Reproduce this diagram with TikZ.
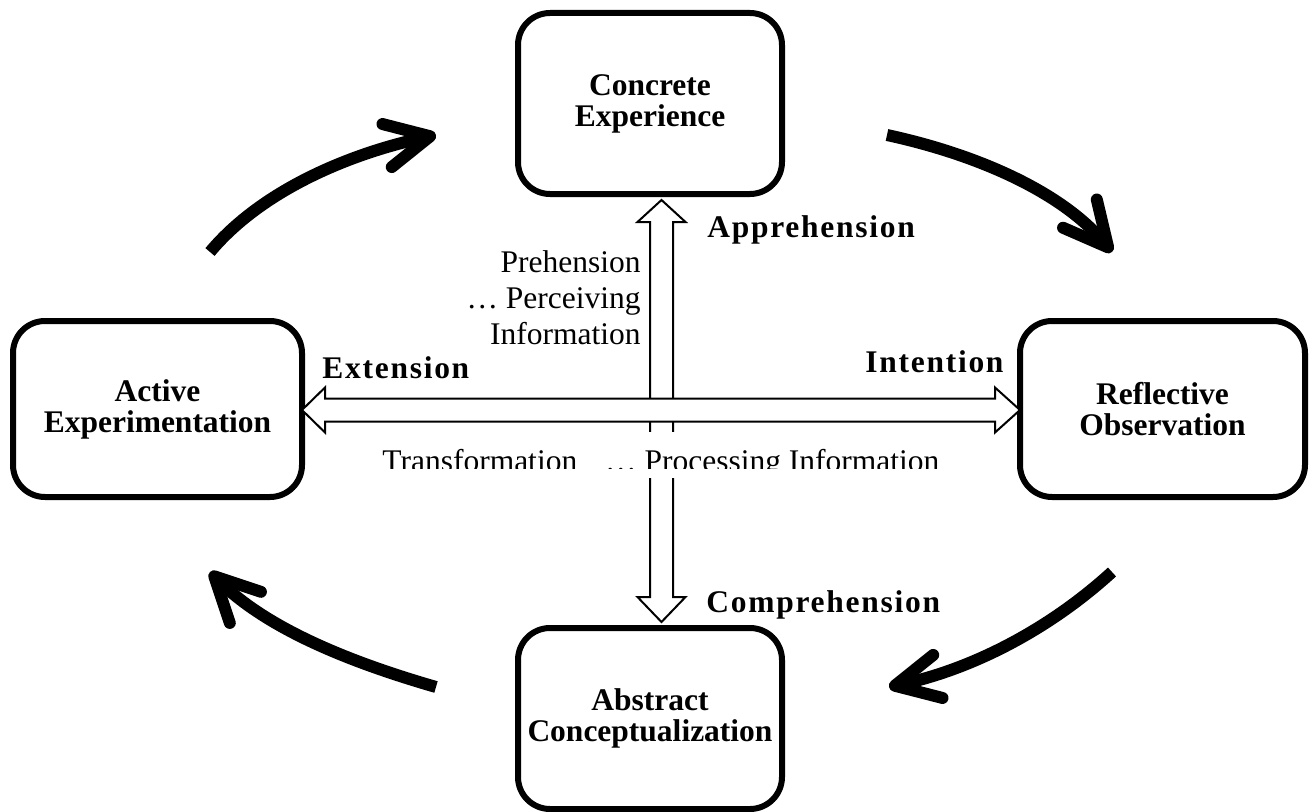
\documentclass[tikz,border=0pt]{standalone}
\usepackage{fontspec}
\setmainfont{Liberation Serif}
\newfontfamily\spacedfont[LetterSpace=5.5]{Liberation Serif}
\usetikzlibrary{arrows.meta,calc}

\begin{document}
\begin{tikzpicture}[x=0.5pt,y=0.5pt,
    stage/.style={draw, line width=3pt, rounded corners=16pt, align=center, inner sep=0pt,
        font=\bfseries\fontsize{15.75}{15.5}\selectfont},
    cyclearrow/.style={line width=6pt, -{Straight Barb[length=22pt,width=22pt,round]}},
    hollow/.style={draw, line width=1pt, fill=white},
    plain/.style={inner sep=0pt, font=\fontsize{15.75}{18}\selectfont},
    mode/.style={inner sep=0pt, anchor=base west, font=\spacedfont\bfseries\fontsize{15.75}{18}\selectfont}]
    \useasboundingbox (0,0) rectangle (1314,811);

%   the four stages
    \node[stage, minimum width=132pt, minimum height=90.5pt] (CE) at (650,707.5) {Concrete\\Experience};
    \node[stage, minimum width=142.5pt, minimum height=88pt] (RO) at (1162.5,402) {Reflective\\Observation};
    \node[stage, minimum width=132pt, minimum height=90.5pt] (AC) at (650,92.5) {Abstract\\Conceptualization};
    \node[stage, minimum width=144.5pt, minimum height=88pt] (AE) at (157.5,402) {Active\\Experimentation};

%   cycle arrows
    \coordinate (aeOut) at (210,559);
    \coordinate (ceIn) at (436,676);
    \coordinate (ceOut) at (887,676);
    \coordinate (roIn) at (1112,559);
    \coordinate (roOut) at (1112,239);
    \coordinate (acIn) at (889,124);
    \coordinate (acOut) at (436,124);
    \coordinate (aeIn) at (210,239);
    \draw[cyclearrow] (aeOut) .. controls (261,620) and (348,657) .. (ceIn);
    \draw[cyclearrow] (ceOut) .. controls (975,657) and (1061,620) .. (roIn);
    \draw[cyclearrow] (roOut) .. controls (1053,185) and (977,143) .. (acIn);
    \draw[cyclearrow] (acOut) .. controls (349.5,149) and (266.6,182.4) .. (aeIn);

%   prehension axis
    \coordinate (vTop) at ($(CE.south)+(11.5,-3)$);
    \coordinate (vBot) at ($(AC.north)+(11.5,3)$);
    \draw[hollow] (vTop) -- ++(24,-22) -- ++(-12.5,0) -- ($(vBot)+(11.5,25)$) -- ++(12.5,0)
        -- (vBot) -- ++(-24,25) -- ++(12.5,0) -- ($(vTop)+(-11.5,-22)$) -- ++(-12.5,0) -- cycle;

%   transformation axis
    \coordinate (hL) at ($(AE.east)+(-3,-1)$);
    \coordinate (hR) at ($(RO.west)+(3,-1)$);
    \draw[hollow] (hL) -- ++(23,22.5) -- ++(0,-11) -- ($(hR)+(-25,11.5)$) -- ++(0,11)
        -- (hR) -- ++(-25,-22.5) -- ++(0,11) -- ($(hL)+(23,-11.5)$) -- ++(0,-11) -- cycle;

%   labels
    \node[plain, anchor=north east, align=right] (perceive) at (641,560.5) {Prehension\\… Perceiving\\Information};
    \fill[white] (375,333) rectangle (950,379);
    \begin{scope}
        \clip (375,342.5) rectangle (950,379);
        \node[plain, anchor=base west] (process) at (382,340) {Transformation\hspace{14pt}… Processing Information};
    \end{scope}
    \node[mode] (appre) at (707,574) {Apprehension};
    \node[mode] (exten) at (322,433) {Extension};
    \node[mode] (inten) at (865,439) {Intention};
    \node[mode] (compre) at (706,199) {Comprehension};
\end{tikzpicture}
\end{document}
